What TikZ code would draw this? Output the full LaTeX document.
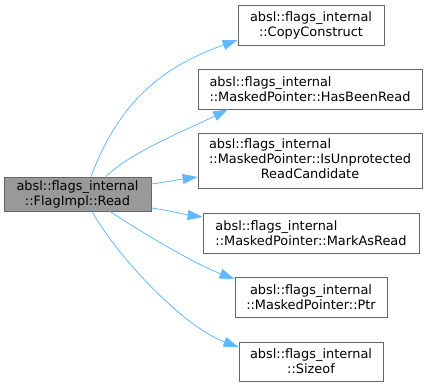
\documentclass[tikz,border=0pt]{standalone}
\usepackage{fontspec}
\setmainfont{DejaVu Sans}
\usetikzlibrary{arrows.meta,positioning,calc}

\definecolor{edgeblue}{HTML}{63B8FF}
\definecolor{boxline}{HTML}{666666}
\definecolor{callerfill}{HTML}{999999}

\tikzset{
  fnbox/.style={draw=boxline, fill=white, line width=0.8pt, inner sep=0pt,
    font=\fontsize{12.9}{15}\selectfont},
  callerbox/.style={fnbox, fill=callerfill},
  callarrow/.style={draw=edgeblue, line width=0.8pt,
    arrows={-Stealth[length=15pt,width=10pt,inset=0pt,fill=edgeblue]}}
}

\begin{document}
\begin{tikzpicture}[x=1pt,y=-1pt]
			\useasboundingbox (0,0) rectangle (429,387);
			
			% Caller
			\node[callerbox, minimum width=147pt, minimum height=34pt, align=center] (read) at (77.5,194) {absl::flags\_internal\\::FlagImpl::Read};
			
			% Callees
			\node[fnbox, minimum width=146pt, minimum height=40pt, align=center] (copy) at (311,25) {absl::flags\_internal\\::CopyConstruct};
			\node[fnbox, minimum width=224pt, minimum height=40pt, align=left] (hasread) at (310,89) {absl::flags\_internal\\::MaskedPointer::HasBeenRead};
			\node[fnbox, minimum width=224pt, minimum height=55pt] (unprot) at (310,160.5) {\begin{tabular}{@{}l@{}}absl::flags\_internal\\::MaskedPointer::IsUnprotected\\\multicolumn{1}{@{}c@{}}{ReadCandidate}\end{tabular}};
			\node[fnbox, minimum width=216pt, minimum height=40pt, align=left] (markread) at (311,233) {absl::flags\_internal\\::MaskedPointer::MarkAsRead};
			\node[fnbox, minimum width=152pt, minimum height=40pt, align=center] (ptr) at (311,297) {absl::flags\_internal\\::MaskedPointer::Ptr};
			\node[fnbox, minimum width=144pt, minimum height=39pt, align=center] (sizeof) at (311,361.5) {absl::flags\_internal\\::Sizeof};
			
			% Calls
			\draw[callarrow] ([xshift=13.5pt]read.north) .. controls +(30,-80) and +(-70,25) .. ([yshift=-15pt]copy.west);
			\draw[callarrow] ([xshift=28.5pt]read.north) .. controls +(25,-25) and +(-40,20) .. ([xshift=-82pt]hasread.south);
			\draw[callarrow] ([yshift=10pt]read.east) .. controls +(15,-2) and +(-15,2) .. ([yshift=-16.5pt]unprot.west);
			\draw[callarrow] ([yshift=-14pt]read.east) .. controls +(15,2) and +(-15,-2) .. ([yshift=16pt]markread.west);
			\draw[callarrow] ([xshift=32.5pt]read.south) .. controls +(30,20) and +(-40,-15) .. ([yshift=18pt]ptr.west);
			\draw[callarrow] ([xshift=14.5pt]read.south) .. controls +(25,45) and +(-55,-20) .. ([yshift=14.5pt]sizeof.west);
		\end{tikzpicture}
\end{document}
